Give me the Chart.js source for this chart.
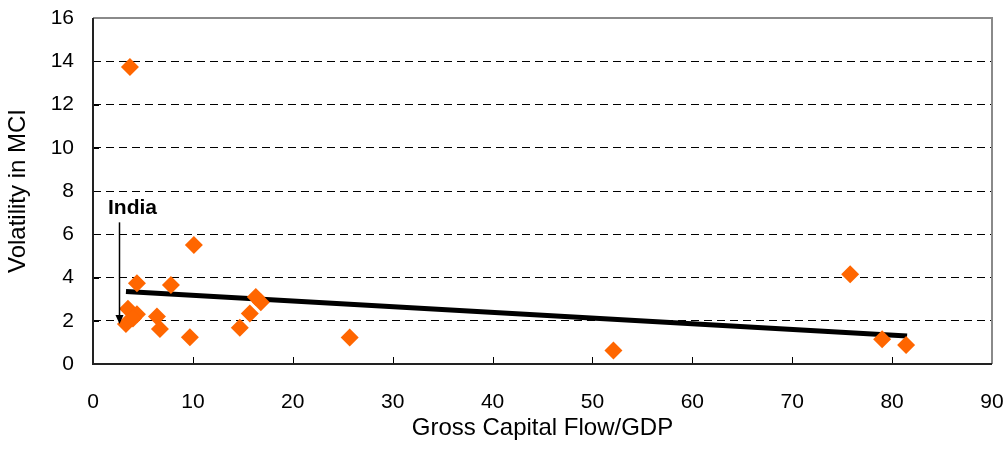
<!DOCTYPE html>
<html>
<head>
<meta charset="utf-8">
<script src="https://cdn.jsdelivr.net/npm/chart.js@4/dist/chart.umd.min.js"></script>
<style>
html,body{margin:0;padding:0;background:#fff;}
#wrap{width:1008px;height:449px;position:relative;}
</style>
</head>
<body>
<div id="wrap"><canvas id="c" width="1008" height="449"></canvas></div>
<script>
// Data
const flowGDP    = [3.7, 10.1, 4.4, 7.8, 3.5, 4.4, 3.3, 4.0, 6.4, 6.7, 9.7, 14.7, 15.7, 16.3, 16.8, 25.7, 52.1, 75.8, 79.0, 81.4];
const volatility = [13.73, 5.5, 3.73, 3.65, 2.55, 2.3, 1.85, 2.1, 2.2, 1.62, 1.24, 1.68, 2.34, 3.1, 2.85, 1.23, 0.62, 4.15, 1.14, 0.88];
const trendX = [3.3, 81.5];
const trendY = [3.35, 1.3];
const xTicks = [0, 10, 20, 30, 40, 50, 60, 70, 80, 90];
const yTicks = [0, 2, 4, 6, 8, 10, 12, 14, 16];
const indiaLabel = "India";
const indiaArrow = {x: 2.6, yFrom: 6.55, yTo: 1.85};
const indiaText = {x: 1.5, y: 7.2};

const FONT = '"Liberation Sans", Arial, sans-serif';

const framePlugin = {
  id: 'frame',
  afterDatasetsDraw(chart) {
    const {ctx, chartArea: a, scales: {x, y}} = chart;
    ctx.save();
    // inward tick marks
    ctx.strokeStyle = '#000';
    ctx.lineWidth = 1;
    xTicks.forEach(v => {
      if (v === 0 || v === 90) return;
      const px = Math.round(x.getPixelForValue(v)) + 0.5;
      ctx.beginPath(); ctx.moveTo(px, a.bottom); ctx.lineTo(px, a.bottom - 7); ctx.stroke();
    });
    yTicks.forEach(v => {
      if (v === 0 || v === 16) return;
      const py = Math.round(y.getPixelForValue(v)) + 0.5;
      ctx.beginPath(); ctx.moveTo(a.left, py); ctx.lineTo(a.left + 6, py); ctx.stroke();
    });
    // top and right border (gray)
    ctx.strokeStyle = '#8a8a8a';
    ctx.lineWidth = 2;
    ctx.beginPath();
    ctx.moveTo(a.left, a.top); ctx.lineTo(a.right, a.top); ctx.lineTo(a.right, a.bottom);
    ctx.stroke();
    // left and bottom axis
    ctx.strokeStyle = '#222';
    ctx.beginPath();
    ctx.moveTo(a.left, a.top); ctx.lineTo(a.left, a.bottom); ctx.lineTo(a.right, a.bottom);
    ctx.stroke();

    // India annotation
    const ax = Math.round(x.getPixelForValue(indiaArrow.x)) + 0.5;
    const ay1 = y.getPixelForValue(indiaArrow.yFrom);
    const ay2 = y.getPixelForValue(indiaArrow.yTo);
    ctx.strokeStyle = '#000'; ctx.fillStyle = '#000';
    ctx.lineWidth = 1.5;
    ctx.beginPath(); ctx.moveTo(ax, ay1); ctx.lineTo(ax, ay2 - 8); ctx.stroke();
    ctx.beginPath(); ctx.moveTo(ax - 4, ay2 - 9); ctx.lineTo(ax + 4, ay2 - 9); ctx.lineTo(ax, ay2); ctx.closePath(); ctx.fill();
    ctx.font = 'bold 21px ' + FONT;
    ctx.textAlign = 'left'; ctx.textBaseline = 'middle';
    ctx.fillText(indiaLabel, x.getPixelForValue(indiaText.x), y.getPixelForValue(indiaText.y));
    ctx.restore();
  }
};

new Chart(document.getElementById('c'), {
  type: 'scatter',
  data: {
    datasets: [
      {
        type: 'line',
        data: trendX.map((v, i) => ({x: v, y: trendY[i]})),
        borderColor: '#000',
        borderWidth: 5,
        pointRadius: 0,
        fill: false,
        order: 2
      },
      {
        data: flowGDP.map((v, i) => ({x: v, y: volatility[i]})),
        pointStyle: 'rectRot',
        pointRadius: 9,
        pointHoverRadius: 9,
        backgroundColor: '#FF6600',
        borderColor: '#FF6600',
        borderWidth: 0,
        order: 1
      }
    ]
  },
  options: {
    responsive: false,
    animation: false,
    events: [],
    layout: {padding: {left: 0, top: 18, right: 16, bottom: 0}},
    plugins: {legend: {display: false}, tooltip: {enabled: false}},
    scales: {
      x: {
        type: 'linear',
        min: 0, max: 90,
        afterBuildTicks: s => { s.ticks = xTicks.map(v => ({value: v})); },
        afterFit: s => { s.height = 449 - 364; s.paddingLeft = 0; s.paddingRight = 0; },
        grid: {display: false, drawTicks: false},
        border: {display: false},
        ticks: {color: '#000', font: {family: FONT, size: 21}, padding: 26, maxRotation: 0},
        title: {display: true, text: 'Gross Capital Flow/GDP', color: '#000', font: {family: FONT, size: 24}, padding: {top: 0, bottom: 6}}
      },
      y: {
        type: 'linear',
        min: 0, max: 16,
        afterBuildTicks: s => { s.ticks = yTicks.map(v => ({value: v})); },
        afterFit: s => { s.width = 93; s.paddingTop = 0; s.paddingBottom = 0; },
        grid: {
          drawTicks: false,
          color: c => (c.tick && (c.tick.value === 0 || c.tick.value === 16)) ? 'rgba(0,0,0,0)' : '#000',
          lineWidth: 1
        },
        border: {display: false, dash: [8, 5]},
        ticks: {color: '#000', font: {family: FONT, size: 21}, padding: 19},
        title: {display: true, text: 'Volatility in MCI', color: '#000', font: {family: FONT, size: 24}, padding: {top: 4, bottom: 4}}
      }
    }
  },
  plugins: [framePlugin]
});
</script>
</body>
</html>
